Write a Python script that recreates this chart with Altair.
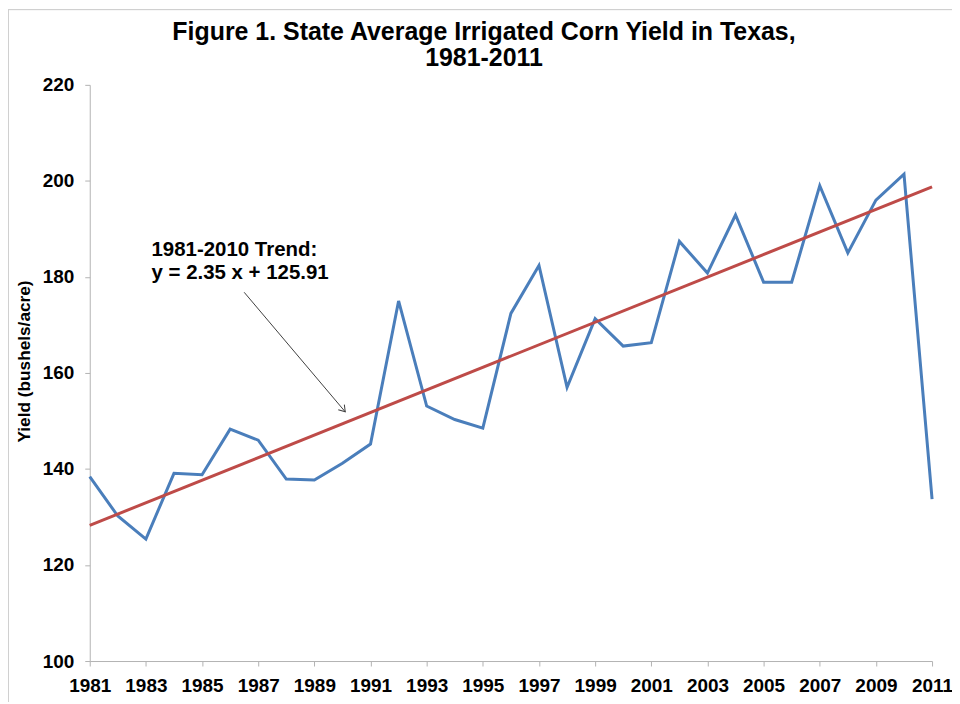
import altair as alt
import pandas as pd

years = list(range(1981, 2012))
yields = [138.4, 130.2, 125.4, 139.1, 138.8, 148.3, 146.0, 137.9, 137.7, 141.2,
          145.2, 175.0, 153.1, 150.3, 148.5, 172.4, 182.4, 157.0, 171.3, 165.6,
          166.3, 187.4, 180.8, 192.9, 178.9, 178.9, 199.0, 185.0, 196.0, 201.4,
          133.7]

trend_slope = 2.35
trend_intercept = 125.91
trend_years = [1981, 2011]
trend_vals = [trend_slope * (y - 1980) + trend_intercept for y in trend_years]

ann_text = ["1981-2010 Trend:", "y = 2.35 x + 125.91"]
arrow_start = (1986.5, 176.8)
arrow_end = (1990.1, 151.9)

FONT = "Liberation Sans"

df = pd.DataFrame({"Year": years, "Yield": yields})
tdf = pd.DataFrame({"Year": trend_years, "Yield": trend_vals})
adf = pd.DataFrame({"x": [arrow_start[0]], "y": [arrow_start[1]],
                    "x2": [arrow_end[0]], "y2": [arrow_end[1]]})
hdf = pd.DataFrame({"x": [arrow_end[0]], "y": [arrow_end[1]]})
txdf = pd.DataFrame({"x": [1983.2], "y": [185.6], "t": ["\n".join(ann_text)]})

xscale = alt.Scale(domain=[1981, 2011], nice=False, zero=False)
yscale = alt.Scale(domain=[100, 220], nice=False, zero=False)

xaxis = alt.Axis(values=years, labelExpr="datum.value % 2 == 1 ? format(datum.value, 'd') : ''",
                 grid=False, domainColor="#b3b3b3", tickColor="#b3b3b3", tickSize=5,
                 labelFont=FONT, labelFontSize=19, labelFontWeight="bold", labelColor="#000000",
                 labelPadding=11, labelFlush=False, labelOverlap=False, title=None)
yaxis = alt.Axis(values=[100, 120, 140, 160, 180, 200, 220], grid=False,
                 domainColor="#b3b3b3", tickColor="#b3b3b3", tickSize=5,
                 labelFont=FONT, labelFontSize=19, labelFontWeight="bold", labelColor="#000000",
                 labelPadding=11, title="Yield (bushels/acre)", titleFont=FONT, titleFontSize=17.3,
                 titleFontWeight="bold", titleColor="#000000", titlePadding=9, titleY=277)

line = alt.Chart(df).mark_line(color="#4A7EBB", strokeWidth=3).encode(
    x=alt.X("Year:Q", scale=xscale, axis=xaxis),
    y=alt.Y("Yield:Q", scale=yscale, axis=yaxis),
)

trend = alt.Chart(tdf).mark_line(color="#BE4B48", strokeWidth=3).encode(
    x=alt.X("Year:Q", scale=xscale),
    y=alt.Y("Yield:Q", scale=yscale),
)

arrow = alt.Chart(adf).mark_rule(color="#404040", strokeWidth=1).encode(
    x=alt.X("x:Q", scale=xscale), y=alt.Y("y:Q", scale=yscale),
    x2="x2:Q", y2="y2:Q",
)

head = alt.Chart(hdf).mark_point(
    shape="M -1 -0.65 L 0 0 L -1 0.65", filled=False, color="#404040",
    strokeWidth=1, size=150, angle=49.8, opacity=1,
).encode(x=alt.X("x:Q", scale=xscale), y=alt.Y("y:Q", scale=yscale))

text = alt.Chart(txdf).mark_text(
    align="left", baseline="middle", font=FONT, fontSize=20.5, fontWeight="bold",
    color="#000000", lineBreak="\n", lineHeight=23,
).encode(x=alt.X("x:Q", scale=xscale), y=alt.Y("y:Q", scale=yscale), text="t:N")

frame_top = alt.Chart(tdf).mark_rule(color="#d0d0d0", strokeWidth=1).encode(
    x=alt.value(-82), x2=alt.value(870), y=alt.value(-75.5))
frame_left = alt.Chart(tdf).mark_rule(color="#d0d0d0", strokeWidth=1).encode(
    x=alt.value(-81.5), y=alt.value(-76), y2=alt.value(620))

chart = alt.layer(line, trend, arrow, head, text, frame_top, frame_left).properties(
    width=845, height=578,
    autosize=alt.AutoSizeParams(type="none"),
    padding={"left": 82, "top": 76, "right": 20, "bottom": 40},
    title=alt.TitleParams(
        text=["Figure 1. State Average Irrigated Corn Yield in Texas,", "1981-2011"],
        font=FONT, fontSize=25, fontWeight="bold", color="#000000",
        anchor="middle", frame="group", dx=-27, dy=79, offset=16, lineHeight=27,
    ),
).configure(background="white", view=alt.ViewConfig(stroke=None))

chart.save("out.html", embed_options={"renderer": "svg", "actions": False})
